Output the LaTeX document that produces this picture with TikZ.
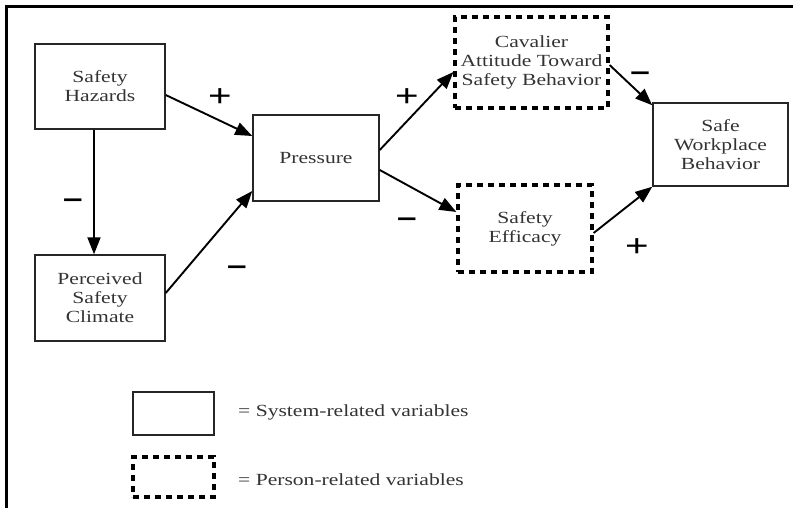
\documentclass[tikz,border=0pt]{standalone}
\usepackage{fontspec}
\setmainfont{Liberation Serif}[FakeStretch=1.27]
\newfontfamily\signfont{Liberation Sans}[FakeStretch=1.3]
\usetikzlibrary{arrows.meta,calc}
\tikzset{
  sysbox/.style={draw=black!85, line width=1.5pt, rectangle, inner sep=0pt, align=center,
    font=\fontsize{17}{19}\selectfont, text=black!80},
  perbox/.style={draw=black, line width=3.2pt, dash pattern=on 6pt off 5pt, rectangle, inner sep=0pt, align=center,
    font=\fontsize{17}{19}\selectfont, text=black!80},
  link/.style={draw=black, line width=1.9pt, -{Triangle[length=17pt,width=13pt]}},
  plus/.style={font=\signfont\fontsize{31}{31}\selectfont, inner sep=0pt},
  minus/.style={font=\signfont\bfseries\fontsize{27}{27}\selectfont, inner sep=0pt},
  legtext/.style={anchor=west, inner sep=0pt, font=\fontsize{17}{19}\selectfont, text=black!80}
}
\begin{document}
\begin{tikzpicture}[x=1pt,y=-1pt]
\useasboundingbox (0,0) rectangle (799,508);
% frame
\draw[line width=2.8pt] (793,6.5) -- (6.5,6.5) -- (6.5,508);
% boxes
\node[sysbox, minimum width=130pt, minimum height=85pt] (sh) at (100,86.5) {Safety\\Hazards};
\node[sysbox, minimum width=130pt, minimum height=86pt] (pc) at (100,298) {Perceived\\Safety\\Climate};
\node[sysbox, minimum width=126pt, minimum height=86pt] (pr) at (316,158) {Pressure};
\node[perbox, minimum width=153pt, minimum height=91pt] (cav) at (531.5,62.5) {Cavalier\\Attitude Toward\\Safety Behavior};
\node[perbox, minimum width=134pt, minimum height=87pt] (eff) at (525,228.5) {Safety\\Efficacy};
\node[sysbox, minimum width=135pt, minimum height=83pt] (swb) at (720.5,144.5) {Safe\\Workplace\\Behavior};
% arrows
\draw[link] ($(sh.east)+(0,8.5)$) -- ($(pr.west)+(0,-22)$);
\draw[link] ($(sh.south)+(-6,0)$) -- ($(pc.north)+(-6,0)$);
\draw[link] ($(pc.east)+(0,-5)$) -- ($(pr.west)+(0,33)$);
\draw[link] ($(pr.east)+(0,-8)$) -- ($(cav.west)+(0,9.5)$);
\draw[link] ($(pr.east)+(0,12)$) -- ($(eff.west)+(0,-16.5)$);
\draw[link] ($(cav.east)+(0,2.5)$) -- ($(swb.north west)+(0,3)$);
\draw[link] ($(eff.east)+(0,4.5)$) -- (swb.south west);
% signs
\node[plus] (p1) at (220,98) {+};
\node[minus] (m1) at (73,203) {–};
\node[minus] (m2) at (237,270) {–};
\node[plus] (p2) at (407,98) {+};
\node[minus] (m3) at (407,222) {–};
\node[minus] (m4) at (640,76) {–};
\node[plus] (p3) at (637,248) {+};
% legend
\node[sysbox, minimum width=81pt, minimum height=43pt] (leg1) at (173.5,413.5) {};
\node[perbox, minimum width=81pt, minimum height=40pt] (leg2) at (173.5,477) {};
\node[legtext] (lt1) at (238,412) {= System-related variables};
\node[legtext] (lt2) at (238,480) {= Person-related variables};
\end{tikzpicture}
\end{document}
